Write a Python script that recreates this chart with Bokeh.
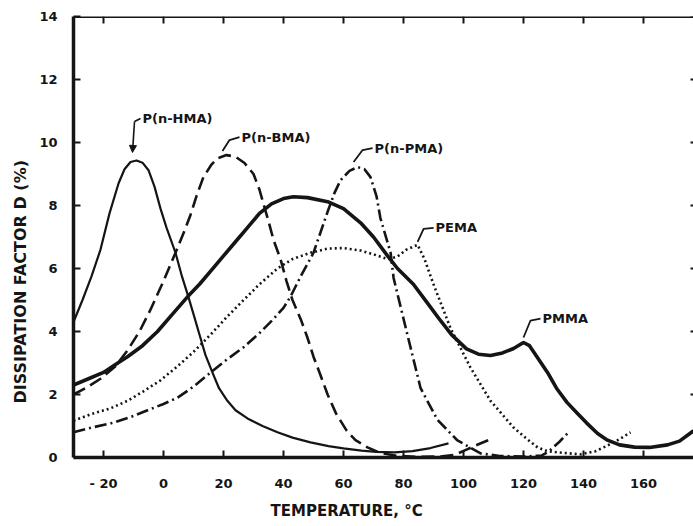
from bokeh.plotting import figure
from bokeh.models import Range1d, FixedTicker, Label, Arrow, NormalHead, Span, Title
from bokeh.embed import file_html
from bokeh.resources import INLINE

# Dissipation factor D (%) versus temperature (deg C) for the polymethacrylate series
hma_t = [-30, -27, -24, -21, -18, -15, -13, -11, -9, -7, -5, -3, -1, 1, 4, 6, 8.3, 10,
         12.3, 14, 16.3, 18.5, 21.3, 24, 28, 33, 38, 43, 49, 55, 60, 66, 71, 77, 83, 89, 95]
hma_d = [4.3, 5.0, 5.75, 6.6, 7.75, 8.7, 9.15, 9.38, 9.43, 9.36, 9.12, 8.6, 7.9, 7.3, 6.5,
         5.8, 5.1, 4.55, 3.8, 3.25, 2.7, 2.2, 1.8, 1.5, 1.24, 1.0, 0.8, 0.63, 0.48, 0.36,
         0.29, 0.22, 0.18, 0.16, 0.2, 0.3, 0.45]

bma_t = [-30, -26, -21, -16, -12, -8, -4.3, 0, 4, 7, 9, 11, 13.3, 16, 18, 21, 24, 27, 30,
         32, 33.3, 35, 36.7, 39, 41, 43, 45.7, 48, 50, 52, 54.7, 57.5, 61, 64, 68, 72, 78,
         85, 92, 97, 101, 105, 110]
bma_d = [2.0, 2.2, 2.5, 2.9, 3.4, 4.0, 4.7, 5.6, 6.5, 7.2, 7.7, 8.3, 8.9, 9.3, 9.5, 9.6,
         9.55, 9.35, 9.0, 8.5, 8.06, 7.5, 6.9, 6.3, 5.6, 5.0, 4.4, 3.8, 3.2, 2.7, 2.0, 1.4,
         0.86, 0.55, 0.32, 0.15, 0.05, 0.02, 0.03, 0.08, 0.25, 0.42, 0.62]

ppma_t = [-30, -24, -17.7, -11, -5.3, 0, 4.7, 10, 15.7, 21, 26.7, 32, 36.7, 40, 42.3, 46,
          50, 54.7, 57, 59, 62, 64.7, 67, 69, 71, 72.3, 75.7, 76.7, 81.3, 85.7, 91.3, 98,
          105.7, 112, 120, 126, 128.5, 132, 135]
ppma_d = [0.8, 0.95, 1.08, 1.28, 1.5, 1.7, 1.9, 2.25, 2.7, 3.1, 3.5, 3.95, 4.4, 4.75, 5.1,
          5.8, 6.5, 7.8, 8.4, 8.8, 9.1, 9.22, 9.15, 8.9, 8.3, 7.6, 6.5, 5.7, 3.9, 2.2, 1.2,
          0.54, 0.13, 0.05, 0.03, 0.06, 0.2, 0.5, 0.8]

pema_t = [-30, -24, -17.7, -12, -6.7, -1, 4.7, 10, 15.7, 21, 26.7, 32, 38, 43, 49, 54.7,
          60, 65.7, 70, 74.7, 78, 81, 84.7, 87, 90, 95.7, 102.3, 109, 116.7, 121, 124.7,
          128, 133, 139, 144, 148, 152, 155.7]
pema_d = [1.17, 1.38, 1.56, 1.8, 2.1, 2.45, 2.9, 3.35, 3.9, 4.45, 5.0, 5.5, 6.0, 6.3, 6.5,
          6.63, 6.65, 6.57, 6.45, 6.3, 6.38, 6.6, 6.75, 6.3, 5.5, 4.1, 2.86, 1.8, 0.95, 0.6,
          0.32, 0.2, 0.15, 0.1, 0.2, 0.38, 0.58, 0.8]

pmma_t = [-30, -25, -20, -16, -12, -7, -2, 3, 8, 12, 16, 20, 24, 28, 32, 36, 40, 43.3, 48,
          54.7, 60, 65.7, 70, 74.7, 78, 83.3, 88, 92.3, 96, 101, 105, 109, 113, 116.7, 120,
          122, 124.7, 128, 131, 134.5, 138, 141, 144.7, 148, 152, 157, 162, 168, 172, 176.7]
pmma_d = [2.3, 2.5, 2.7, 2.95, 3.2, 3.55, 4.0, 4.55, 5.1, 5.5, 5.95, 6.4, 6.85, 7.3, 7.75,
          8.05, 8.22, 8.28, 8.25, 8.12, 7.9, 7.45, 7.0, 6.4, 6.0, 5.5, 4.9, 4.35, 3.9, 3.45,
          3.28, 3.24, 3.32, 3.46, 3.65, 3.55, 3.17, 2.7, 2.2, 1.75, 1.4, 1.1, 0.76, 0.55,
          0.4, 0.33, 0.32, 0.4, 0.52, 0.85]

x_ticks = [-20, 0, 20, 40, 60, 80, 100, 120, 140, 160]
y_ticks = [0, 2, 4, 6, 8, 10, 12, 14]
x_tick_text = {-20: "- 20"}

INK = "#151515"
FONT = "DejaVu Sans"

X0, X1 = -30, 176.67
Y0, Y1 = 0, 14
FRAME_W, FRAME_H = 620, 441
SX = FRAME_W / (X1 - X0)   # pixels per degree
SY = FRAME_H / (Y1 - Y0)   # pixels per percent
TICK = 7                   # inward tick length, px

p = figure(width=693, height=526, x_range=Range1d(X0, X1), y_range=Range1d(Y0, Y1),
           output_backend="svg", toolbar_location=None,
           min_border_left=73, min_border_right=0, min_border_top=16, min_border_bottom=69)
p.outline_line_color = None
p.grid.visible = False
p.background_fill_color = "white"
p.border_fill_color = "white"


def style_axis(ax, ticks, standoff):
    ax.ticker = FixedTicker(ticks=ticks)
    ax.axis_line_color = INK
    ax.axis_line_width = 3.5
    ax.major_tick_in = TICK
    ax.major_tick_out = 0
    ax.major_tick_line_width = 2
    ax.major_tick_line_color = INK
    ax.minor_tick_line_color = None
    ax.major_label_text_font = FONT
    ax.major_label_text_font_style = "bold"
    ax.major_label_text_font_size = "13px"
    ax.major_label_text_color = INK
    ax.major_label_standoff = standoff


style_axis(p.xaxis[0], x_ticks, 18)
p.xaxis[0].major_label_overrides = x_tick_text
style_axis(p.yaxis[0], y_ticks, 16)

# top edge of the frame with its inward ticks, and inward ticks on the right edge
p.add_layout(Span(location=Y1, dimension="width", line_color=INK, line_width=3))
p.segment(x0=x_ticks, y0=[Y1] * len(x_ticks), x1=x_ticks,
          y1=[Y1 - TICK / SY] * len(x_ticks), line_color=INK, line_width=2)
p.segment(x0=[X1 - 3 / SX] * len(y_ticks), y0=y_ticks, x1=[X1] * len(y_ticks),
          y1=y_ticks, line_color=INK, line_width=2)

# curves
p.line(hma_t, hma_d, line_color=INK, line_width=2.2, line_join="round")
p.line(bma_t, bma_d, line_color=INK, line_width=2.6, line_dash="13 6")
p.line(ppma_t, ppma_d, line_color=INK, line_width=2.6, line_dash="12 4 2 4")
p.line(pema_t, pema_d, line_color=INK, line_width=2.6, line_dash="2 3")
p.line(pmma_t, pmma_d, line_color=INK, line_width=3.6, line_join="round")


def at(t, d, dx, dy):
    """Shift a data point by a pixel offset (dy positive = downwards)."""
    return t + dx / SX, d - dy / SY


def peak(ts, ds, lo=-1e9):
    best = max((d, t) for t, d in zip(ts, ds) if t >= lo)
    return best[1], best[0]


def tag(text, anchor, path, text_off, arrow=False):
    t0, d0 = anchor
    pts = [at(t0, d0, dx, dy) for dx, dy in path]
    xs = [q[0] for q in pts]
    ys = [q[1] for q in pts]
    if arrow:
        p.line(xs[1:], ys[1:], line_color=INK, line_width=1.6)
        p.add_layout(Arrow(end=NormalHead(size=7, fill_color=INK, line_color=INK),
                           x_start=xs[1], y_start=ys[1], x_end=xs[0], y_end=ys[0],
                           line_color=INK, line_width=1.6))
    else:
        p.line(xs, ys, line_color=INK, line_width=1.8)
    lx, ly = at(t0, d0, *text_off)
    p.add_layout(Label(x=lx, y=ly, text=text, text_font=FONT, text_font_style="bold",
                       text_font_size="13px", text_color=INK,
                       text_align="left", text_baseline="middle"))


tag("P(n-HMA)", peak(hma_t, hma_d), [(-4, -8), (-2, -39), (4, -42)], (6, -42), arrow=True)
tag("P(n-BMA)", peak(bma_t, bma_d), [(-4, -4), (3, -15), (13, -18)], (15, -18))
tag("P(n-PMA)", peak(ppma_t, ppma_d), [(-4, -5), (5, -17), (15, -19)], (17, -19))
tag("PEMA", peak(pema_t, pema_d), [(0, -3), (6, -16), (16, -17)], (18, -17))
tag("PMMA", peak(pmma_t, pmma_d, lo=100), [(0, -5), (7, -22), (17, -24)], (19, -24))

# axis titles, anchored at their start and set off the frame centre
p.add_layout(Title(text="DISSIPATION FACTOR D (%)", align="left", offset=54,
                   standoff=14, text_font=FONT, text_font_style="bold",
                   text_font_size="16px", text_color=INK), "left")
p.add_layout(Title(text="TEMPERATURE, °C", align="left", offset=197,
                   standoff=13, text_font=FONT, text_font_style="bold",
                   text_font_size="15px", text_color=INK), "below")

open("out.html", "w").write(file_html(p, INLINE))
